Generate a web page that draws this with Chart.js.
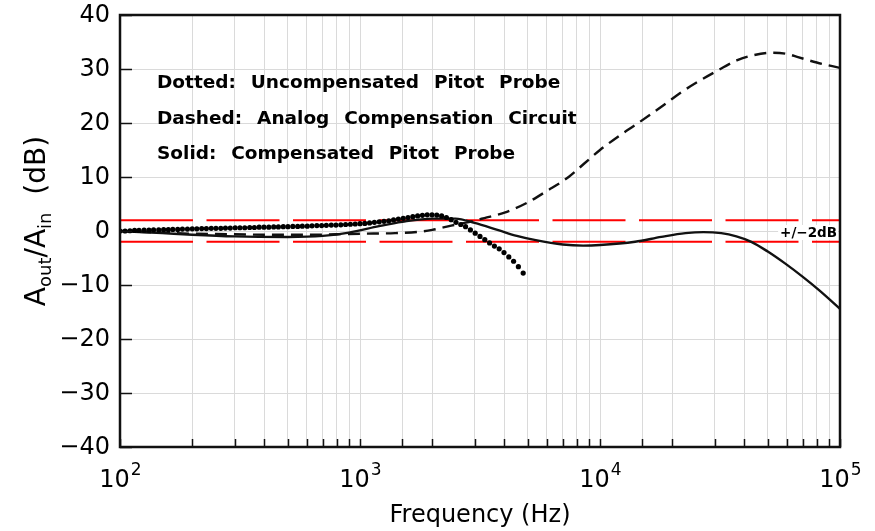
<!DOCTYPE html>
<html>
<head>
<meta charset="utf-8">
<script src="https://cdn.jsdelivr.net/npm/chart.js@4.4.0/dist/chart.umd.min.js"></script>
<style>
  html, body { margin: 0; padding: 0; background: #fff; }
</style>
</head>
<body>
<canvas id="myChart" width="875" height="531"></canvas>
<script>
// uncompensated probe (dotted markers)
const dottedFreq = [100, 105, 110, 115, 120, 126, 132, 138, 145, 152, 159, 166, 174, 182, 191,
  200, 209, 219, 229, 240, 251, 263, 275, 288, 302, 316, 331, 347, 363, 380, 398, 417, 437, 457,
  479, 501, 525, 550, 575, 603, 631, 661, 692, 724, 759, 794, 832, 871, 912, 955, 1000, 1047,
  1096, 1148, 1202, 1259, 1318, 1380, 1445, 1514, 1585, 1660, 1738, 1820, 1905, 1995, 2089,
  2188, 2291, 2399, 2512, 2630, 2754, 2884, 3020, 3162, 3311, 3467, 3631, 3802, 3981, 4169,
  4365, 4571, 4786];
const dottedGain = [0.0, 0.0, 0.05, 0.1, 0.1, 0.15, 0.15, 0.2, 0.2, 0.25, 0.25, 0.3, 0.3, 0.35, 0.35,
  0.4, 0.4, 0.45, 0.45, 0.5, 0.5, 0.5, 0.55, 0.55, 0.6, 0.6, 0.6, 0.65, 0.65, 0.7, 0.7, 0.7, 0.75, 0.75,
  0.8, 0.8, 0.85, 0.85, 0.9, 0.9, 0.95, 1.0, 1.0, 1.05, 1.1, 1.1, 1.15, 1.2, 1.25, 1.3, 1.35, 1.4,
  1.5, 1.6, 1.7, 1.8, 1.9, 2.05, 2.2, 2.35, 2.5, 2.65, 2.8, 2.9, 3.0, 3.0, 2.95,
  2.8, 2.5, 2.1, 1.6, 1.2, 0.8, 0.2, -0.4, -1.0, -1.6, -2.2, -2.8, -3.3, -4.0, -4.8,
  -5.6, -6.6, -7.8];

// analog compensation circuit (dashed)
const dashedFreq = [100, 150, 200, 300, 400, 600, 800, 1000, 1400, 1800, 2000, 2400, 2800, 3300,
  4000, 5000, 6000, 7400, 8600, 10000, 12000, 14000, 16500, 19200, 22000, 25500, 30000, 37600,
  44000, 52000, 60000, 66800, 80000, 100000];
const dashedGain = [0, -0.3, -0.5, -0.6, -0.7, -0.7, -0.6, -0.5, -0.4, -0.1, 0.2, 1.0, 1.6, 2.4,
  3.4, 5.3, 7.4, 10, 12.5, 15, 17.6, 19.6, 21.8, 23.9, 25.8, 27.6, 29.4, 31.7,
  32.6, 33, 32.8, 32.2, 31.2, 30.2];

// compensated probe (solid)
const solidFreq = [100, 150, 200, 300, 500, 700, 900, 1200, 1500, 2000, 2500, 3000, 3800, 4500,
  5400, 7000, 8500, 10000, 14000, 18000, 22700, 27000, 32000, 37000, 42700, 50000, 59000, 70000,
  82000, 100000];
const solidGain = [0, -0.4, -0.7, -1.0, -1.1, -0.9, -0.3, 0.9, 1.7, 2.3, 2.3, 1.5, 0.1, -0.9,
  -1.7, -2.5, -2.7, -2.6, -2.0, -1.1, -0.4, -0.2, -0.4, -1.0, -2.0, -3.8, -6.0, -8.5,
  -11, -14.4];

// +/-2 dB band
const limitFreq = [100, 100000];
const upperLimit = [2, 2];
const lowerLimit = [-2, -2];

const yTicks = [-40, -30, -20, -10, 0, 10, 20, 30, 40];
const xMajor = [100, 1000, 10000, 100000];
const xExponents = ['2', '3', '4', '5'];
const notes = [
  'Dotted:  Uncompensated  Pitot  Probe',
  'Dashed:  Analog  Compensation  Circuit',
  'Solid:  Compensated  Pitot  Probe'
];
const bandLabel = '+/\u22122dB';

const pairs = (fs, gs) => fs.map((f, i) => ({ x: f, y: gs[i] }));
const FONT = 'DejaVu Sans';

// frame, inward ticks, axis labels/titles and text notes
const decor = {
  id: 'decor',
  afterDatasetsDraw(chart) {
    const { ctx, chartArea: a, scales: { x, y } } = chart;
    ctx.save();
    ctx.strokeStyle = '#111';
    ctx.lineWidth = 1.5;
    ctx.beginPath();
    x.ticks.forEach(t => {
      const px = Math.round(x.getPixelForValue(t.value)) + 0.5;
      ctx.moveTo(px, a.bottom);
      ctx.lineTo(px, a.bottom - 8);
    });
    yTicks.forEach(v => {
      const py = Math.round(y.getPixelForValue(v)) + 0.5;
      ctx.moveTo(a.left, py);
      ctx.lineTo(a.left + 12, py);
    });
    ctx.stroke();

    ctx.lineWidth = 2.5;
    ctx.strokeRect(a.left, a.top, a.right - a.left, a.bottom - a.top);

    // y tick labels
    ctx.fillStyle = '#000';
    ctx.font = '24px ' + FONT;
    ctx.textAlign = 'right';
    ctx.textBaseline = 'middle';
    yTicks.forEach(v => {
      ctx.fillText(v < 0 ? '\u2212' + (-v) : String(v), 110, y.getPixelForValue(v) + 1);
    });

    // x tick labels 10^n
    ctx.textBaseline = 'alphabetic';
    ctx.textAlign = 'left';
    xMajor.forEach((m, i) => {
      ctx.font = '24px ' + FONT;
      const w1 = ctx.measureText('10').width;
      ctx.font = '17px ' + FONT;
      const w2 = ctx.measureText(xExponents[i]).width;
      const x0 = x.getPixelForValue(m) - (w1 + w2) / 2;
      ctx.font = '24px ' + FONT;
      ctx.fillText('10', x0, 487);
      ctx.font = '17px ' + FONT;
      ctx.fillText(xExponents[i], x0 + w1 + 1, 475);
    });

    // notes
    ctx.font = 'bold 18.5px ' + FONT;
    ctx.wordSpacing = '1px';
    notes.forEach((s, i) => ctx.fillText(s, 157, 88 + i * 35.5));
    ctx.wordSpacing = '0px';

    // band label
    ctx.font = 'bold 13.5px ' + FONT;
    const bw = ctx.measureText(bandLabel).width;
    ctx.fillStyle = '#fff';
    ctx.fillRect(a.right - bw - 5, 225, bw + 3, 15);
    ctx.fillStyle = '#000';
    ctx.textAlign = 'right';
    ctx.textBaseline = 'middle';
    ctx.fillText(bandLabel, a.right - 3, 233);

    // x title
    ctx.font = '24px ' + FONT;
    ctx.textAlign = 'center';
    ctx.textBaseline = 'alphabetic';
    ctx.fillText('Frequency (Hz)', 480, 522);

    // y title with subscripts
    const parts = [
      ['A', 28, 0], ['out', 18, 6], ['/A', 28, 0], ['in', 18, 6], ['  (dB)', 28, 0]
    ];
    let total = 0;
    parts.forEach(p => { ctx.font = p[1] + 'px ' + FONT; total += ctx.measureText(p[0]).width; });
    ctx.translate(45, 221);
    ctx.rotate(-Math.PI / 2);
    ctx.textAlign = 'left';
    let cx = -total / 2;
    parts.forEach(p => {
      ctx.font = p[1] + 'px ' + FONT;
      ctx.fillText(p[0], cx, p[2]);
      cx += ctx.measureText(p[0]).width;
    });
    ctx.restore();
  }
};

new Chart(document.getElementById('myChart'), {
  type: 'line',
  data: {
    datasets: [
      {
        label: 'Dotted',
        data: pairs(dottedFreq, dottedGain),
        showLine: false,
        pointRadius: 2.6,
        pointBackgroundColor: '#000',
        pointBorderWidth: 0
      },
      {
        label: 'Dashed',
        data: pairs(dashedFreq, dashedGain),
        borderColor: '#111',
        borderWidth: 2.4,
        borderDash: [12, 7],
        pointRadius: 0,
        cubicInterpolationMode: 'monotone'
      },
      {
        label: 'Solid',
        data: pairs(solidFreq, solidGain),
        borderColor: '#111',
        borderWidth: 2.4,
        pointRadius: 0,
        cubicInterpolationMode: 'monotone'
      },
      {
        label: '+2 dB',
        data: pairs(limitFreq, upperLimit),
        borderColor: '#ff0000',
        borderWidth: 2,
        borderDash: [73, 13.5],
        pointRadius: 0
      },
      {
        label: '-2 dB',
        data: pairs(limitFreq, lowerLimit),
        borderColor: '#ff0000',
        borderWidth: 2,
        borderDash: [73, 13.5],
        pointRadius: 0
      }
    ]
  },
  options: {
    responsive: false,
    animation: false,
    devicePixelRatio: 1,
    layout: { padding: { top: 15, right: 35, left: 0, bottom: 0 } },
    plugins: { legend: { display: false }, tooltip: { enabled: false } },
    scales: {
      x: {
        type: 'logarithmic',
        min: 100,
        max: 100000,
        border: { display: false },
        grid: { color: '#dadada', lineWidth: 1, drawTicks: false },
        ticks: { display: false, autoSkip: false },
        afterFit: s => { s.height = 84; }
      },
      y: {
        min: -40,
        max: 40,
        border: { display: false },
        grid: { color: '#dadada', lineWidth: 1, drawTicks: false },
        ticks: { display: false, stepSize: 10 },
        afterFit: s => { s.width = 120; }
      }
    }
  },
  plugins: [decor]
});
</script>
</body>
</html>
